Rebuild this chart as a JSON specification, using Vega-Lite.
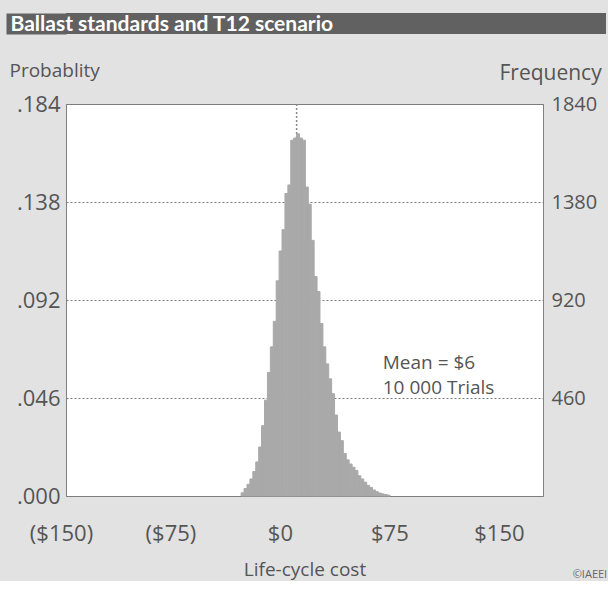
{
  "$schema": "https://vega.github.io/schema/vega-lite/v6.json",
  "background": "#e2e2e2",
  "padding": {"left": 8, "top": 13, "right": 0, "bottom": 0},
  "config": {"font": "Open Sans", "view": {"stroke": null}},
  "datasets": {
    "bins": [
      {"cost_from": -30, "cost_to": -28, "frequency": 15},
      {"cost_from": -28, "cost_to": -26, "frequency": 35},
      {"cost_from": -26, "cost_to": -24, "frequency": 55},
      {"cost_from": -24, "cost_to": -22, "frequency": 80},
      {"cost_from": -22, "cost_to": -20, "frequency": 115},
      {"cost_from": -20, "cost_to": -18, "frequency": 160},
      {"cost_from": -18, "cost_to": -16, "frequency": 230},
      {"cost_from": -16, "cost_to": -14, "frequency": 330},
      {"cost_from": -14, "cost_to": -12, "frequency": 450},
      {"cost_from": -12, "cost_to": -10, "frequency": 580},
      {"cost_from": -10, "cost_to": -8, "frequency": 700},
      {"cost_from": -8, "cost_to": -6, "frequency": 820},
      {"cost_from": -6, "cost_to": -4, "frequency": 1010},
      {"cost_from": -4, "cost_to": -2, "frequency": 1150},
      {"cost_from": -2, "cost_to": 0, "frequency": 1250},
      {"cost_from": 0, "cost_to": 2, "frequency": 1420},
      {"cost_from": 2, "cost_to": 4, "frequency": 1460},
      {"cost_from": 4, "cost_to": 6, "frequency": 1670},
      {"cost_from": 6, "cost_to": 8, "frequency": 1680},
      {"cost_from": 8, "cost_to": 10, "frequency": 1700},
      {"cost_from": 10, "cost_to": 12, "frequency": 1680},
      {"cost_from": 12, "cost_to": 14, "frequency": 1670},
      {"cost_from": 14, "cost_to": 16, "frequency": 1450},
      {"cost_from": 16, "cost_to": 18, "frequency": 1370},
      {"cost_from": 18, "cost_to": 20, "frequency": 1200},
      {"cost_from": 20, "cost_to": 22, "frequency": 1030},
      {"cost_from": 22, "cost_to": 24, "frequency": 960},
      {"cost_from": 24, "cost_to": 26, "frequency": 810},
      {"cost_from": 26, "cost_to": 28, "frequency": 700},
      {"cost_from": 28, "cost_to": 30, "frequency": 620},
      {"cost_from": 30, "cost_to": 32, "frequency": 550},
      {"cost_from": 32, "cost_to": 34, "frequency": 480},
      {"cost_from": 34, "cost_to": 36, "frequency": 380},
      {"cost_from": 36, "cost_to": 38, "frequency": 300},
      {"cost_from": 38, "cost_to": 40, "frequency": 260},
      {"cost_from": 40, "cost_to": 42, "frequency": 200},
      {"cost_from": 42, "cost_to": 44, "frequency": 170},
      {"cost_from": 44, "cost_to": 46, "frequency": 150},
      {"cost_from": 46, "cost_to": 48, "frequency": 135},
      {"cost_from": 48, "cost_to": 50, "frequency": 120},
      {"cost_from": 50, "cost_to": 52, "frequency": 95},
      {"cost_from": 52, "cost_to": 54, "frequency": 80},
      {"cost_from": 54, "cost_to": 56, "frequency": 65},
      {"cost_from": 56, "cost_to": 58, "frequency": 50},
      {"cost_from": 58, "cost_to": 60, "frequency": 40},
      {"cost_from": 60, "cost_to": 62, "frequency": 28},
      {"cost_from": 62, "cost_to": 64, "frequency": 20},
      {"cost_from": 64, "cost_to": 66, "frequency": 14},
      {"cost_from": 66, "cost_to": 68, "frequency": 10},
      {"cost_from": 68, "cost_to": 70, "frequency": 7},
      {"cost_from": 70, "cost_to": 72, "frequency": 4}
    ],
    "marker": [{"cost": 8}],
    "heading": [{"heading": "Ballast standards and T12 scenario"}]
  },
  "vconcat": [
    {
      "width": 540,
      "height": 21,
      "data": {"name": "heading"},
      "view": {"fill": "#616161", "stroke": null},
      "mark": {"type": "rule", "strokeOpacity": 0},
      "encoding": {
        "x": {
          "datum": 0,
          "type": "quantitative",
          "axis": {
            "orient": "top",
            "labels": false,
            "ticks": false,
            "domain": false,
            "grid": false,
            "title": "Ballast standards and T12 scenario",
            "titleX": -56,
            "titleY": 17,
            "titleAlign": "left",
            "titleBaseline": "alphabetic",
            "titleAngle": 0,
            "titleColor": "#ffffff",
            "titleFontSize": 21,
            "titleFontWeight": "bold",
            "titleFont": "Lato",
            "zindex": 1
          }
        },
        "y": {
          "datum": 0,
          "type": "quantitative",
          "scale": {"domain": [0, 1]},
          "axis": {
            "orient": "left",
            "labels": false,
            "ticks": false,
            "grid": false,
            "title": null,
            "domain": true,
            "domainColor": "#616161",
            "domainWidth": 60,
            "domainCap": "butt",
            "offset": 30,
            "zindex": 0
          }
        }
      }
    },
    {
      "width": 477,
      "height": 392,
      "view": {"fill": "#ffffff", "stroke": "#808080", "strokeWidth": 1},
      "title": {
        "text": "©IAEEI",
        "orient": "bottom",
        "anchor": "end",
        "offset": -10,
        "dx": 6,
        "fontSize": 11,
        "fontWeight": "normal",
        "color": "#666666"
      },
      "layer": [
        {
          "data": {"name": "marker"},
          "mark": {"type": "rule", "color": "#8a8a8a", "strokeDash": [2, 2], "strokeWidth": 1.5},
          "encoding": {
            "x": {"field": "cost", "type": "quantitative", "scale": {"domain": [-150, 176.8], "nice": false, "zero": false}, "axis": null}
          }
        },
        {
          "data": {"name": "bins"},
          "mark": {"type": "rect", "color": "#a9a9a9", "stroke": "#a9a9a9", "strokeWidth": 1},
          "encoding": {
            "x": {
              "field": "cost_from",
              "type": "quantitative",
              "scale": {"domain": [-150, 176.8], "nice": false, "zero": false},
              "axis": {
                "values": [-150, -75, 0, 75, 150],
                "labelExpr": "datum.value < 0 ? '($' + format(-datum.value, 'd') + ')' : '$' + format(datum.value, 'd')",
                "labelFontSize": 22,
                "labelColor": "#555555",
                "labelPadding": 27,
                "labelOffset": -5,
                "labelBaseline": "top",
                "labelOverlap": false,
                "labelBound": false,
                "labelFlush": false,
                "ticks": false,
                "domain": false,
                "grid": false,
                "title": "Life-cycle cost",
                "titleFontSize": 19,
                "titleFontWeight": "normal",
                "titleColor": "#555555",
                "titlePadding": 16
              }
            },
            "x2": {"field": "cost_to"},
            "y": {
              "field": "frequency",
              "type": "quantitative",
              "scale": {"domain": [0, 1840], "nice": false},
              "axis": {
                "orient": "left",
                "values": [0, 460, 920, 1380, 1840],
                "labelExpr": "'.' + format(datum.value / 10, '03d')",
                "labelFontSize": 22,
                "labelColor": "#555555",
                "labelPadding": 6,
                "ticks": false,
                "domain": false,
                "grid": true,
                "gridColor": "#7a7a7a",
                "gridDash": [2, 2],
                "gridWidth": 1,
                "title": "Probablity",
                "titleAngle": 0,
                "titleAlign": "left",
                "titleBaseline": "alphabetic",
                "titleX": -57,
                "titleY": -28,
                "titleFontSize": 19,
                "titleFontWeight": "normal",
                "titleColor": "#555555"
              }
            }
          }
        },
        {
          "data": {"values": [{}]},
          "mark": {"type": "text", "align": "left", "baseline": "middle", "fontSize": 19, "lineHeight": 25, "color": "#555555"},
          "encoding": {
            "x": {"datum": 67, "type": "quantitative", "axis": null},
            "y": {
              "datum": 625,
              "type": "quantitative",
              "axis": {
                "orient": "right",
                "values": [460, 920, 1380, 1840],
                "labelFontSize": 20,
                "labelColor": "#555555",
                "labelPadding": 8,
                "format": "d",
                "ticks": false,
                "domain": false,
                "grid": false,
                "title": "Frequency",
                "titleAngle": 0,
                "titleAlign": "left",
                "titleBaseline": "alphabetic",
                "titleX": -44,
                "titleY": -25,
                "titleFontSize": 21,
                "titleFontWeight": "normal",
                "titleColor": "#555555"
              }
            },
            "text": {"value": ["Mean = $6", "10 000 Trials"]}
          }
        }
      ],
      "resolve": {"axis": {"y": "independent", "x": "independent"}}
    }
  ],
  "spacing": 26
}
